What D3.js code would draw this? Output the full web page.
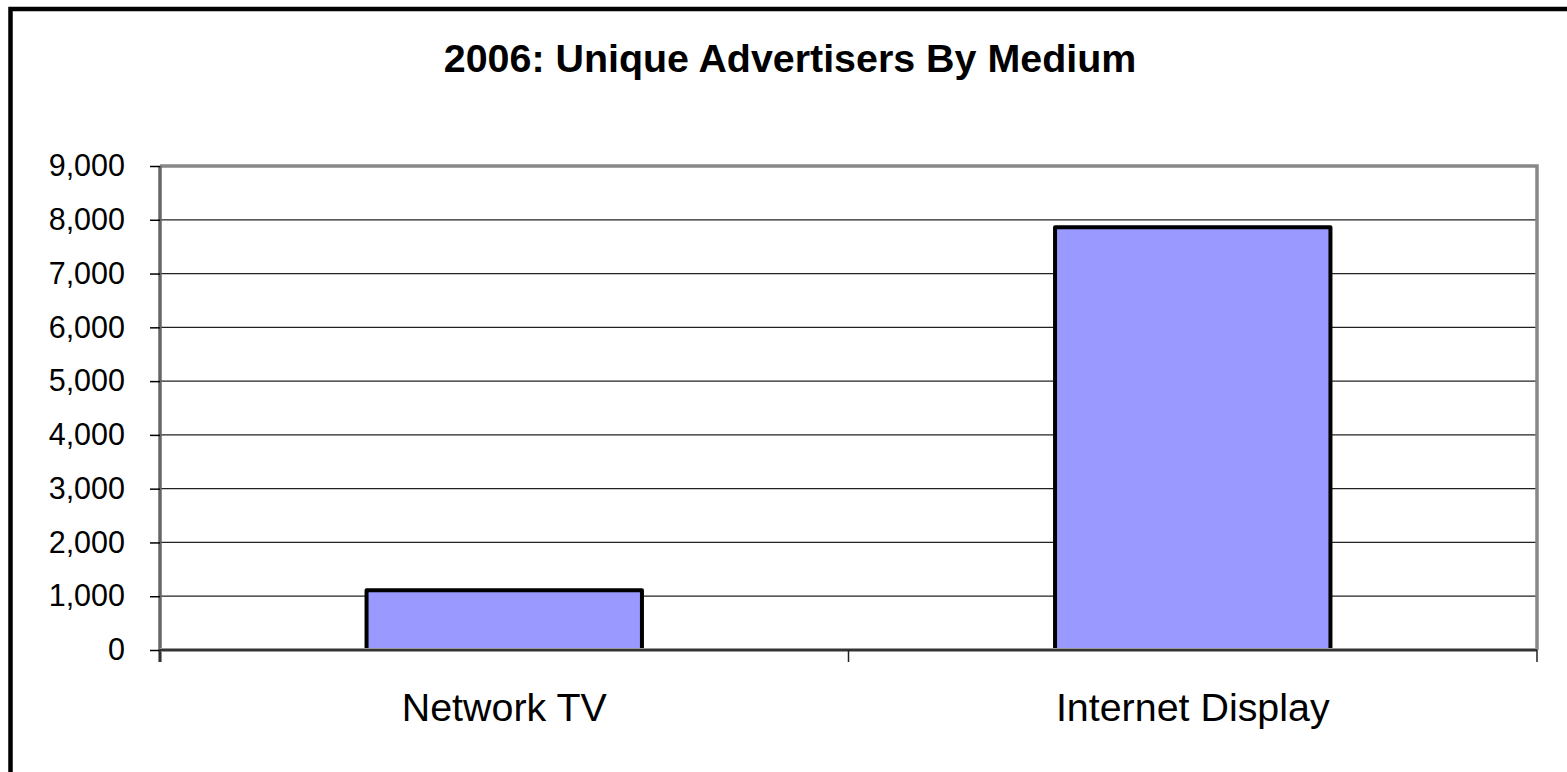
<!DOCTYPE html>
<html>
<head>
<meta charset="utf-8">
<script src="https://cdn.jsdelivr.net/npm/d3@7/dist/d3.min.js"></script>
<style>
  html, body { margin: 0; padding: 0; background: #fff; }
  svg { display: block; font-family: "Liberation Sans", Arial, sans-serif; }
</style>
</head>
<body>
<svg id="chart" width="1567" height="772"></svg>
<script>
// Chart data
const title = "2006: Unique Advertisers By Medium";
const categories = ["Network TV", "Internet Display"];
const advertisers = [1110, 7860];
const yTicks = [0, 1000, 2000, 3000, 4000, 5000, 6000, 7000, 8000, 9000];
const yMax = 9000;

const svg = d3.select("#chart");
const W = 1567, H = 772;

// Plot area
const plot = { left: 160, right: 1537, top: 166, bottom: 650 };

// Outer chart border (runs past the right and bottom edges)
svg.append("rect")
  .attr("x", 10.5).attr("y", 9)
  .attr("width", W + 10).attr("height", H + 10)
  .attr("fill", "#fff")
  .attr("stroke", "#000")
  .attr("stroke-width", 4.5);

// Title
svg.append("text")
  .attr("x", 790).attr("y", 72)
  .attr("text-anchor", "middle")
  .attr("font-size", 39.4)
  .attr("font-weight", "bold")
  .attr("fill", "#000")
  .text(title);

const x = d3.scaleBand()
  .domain(categories)
  .range([plot.left, plot.right])
  .paddingInner(0.6)
  .paddingOuter(0.3);

const y = d3.scaleLinear()
  .domain([0, yMax])
  .range([plot.bottom, plot.top]);

// Horizontal gridlines
svg.append("g")
  .selectAll("line")
  .data(yTicks.filter(d => d > 0 && d < yMax))
  .join("line")
  .attr("x1", plot.left).attr("x2", plot.right)
  .attr("y1", d => y(d)).attr("y2", d => y(d))
  .attr("stroke", "#222")
  .attr("stroke-width", 1.3);

// Plot frame (top and right edges)
svg.append("path")
  .attr("d", `M${plot.left},${plot.top}H${plot.right}V${plot.bottom}`)
  .attr("fill", "none")
  .attr("stroke", "#888")
  .attr("stroke-width", 3.5);

// Bars
svg.append("g")
  .selectAll("rect")
  .data(categories.map((c, i) => ({ c, v: advertisers[i] })))
  .join("rect")
  .attr("x", d => x(d.c))
  .attr("y", d => y(d.v))
  .attr("width", x.bandwidth())
  .attr("height", d => y(0) - y(d.v))
  .attr("fill", "#9999FF")
  .attr("stroke", "#000")
  .attr("stroke-width", 4)
  .attr("stroke-linejoin", "round");

// Y axis
const yAxis = svg.append("g")
  .attr("transform", `translate(${plot.left},0)`)
  .call(d3.axisLeft(y)
    .tickValues(yTicks)
    .tickSize(10)
    .tickPadding(25)
    .tickFormat(d3.format(",")));
yAxis.select(".domain")
  .attr("d", `M0,${plot.top}V${plot.bottom + 12}`)
  .attr("stroke", "#666")
  .attr("stroke-width", 3.5);
yAxis.selectAll(".tick line").attr("stroke", "#000").attr("stroke-width", 1.5);
yAxis.selectAll(".tick text")
  .attr("font-size", 30.5)
  .attr("fill", "#000")
  .attr("font-family", "Liberation Sans, Arial, sans-serif");

// X axis baseline with light edge and dark core
svg.append("line")
  .attr("x1", plot.left).attr("x2", plot.right)
  .attr("y1", plot.bottom).attr("y2", plot.bottom)
  .attr("stroke", "#999").attr("stroke-width", 4);
svg.append("line")
  .attr("x1", plot.left).attr("x2", plot.right)
  .attr("y1", plot.bottom).attr("y2", plot.bottom)
  .attr("stroke", "#333").attr("stroke-width", 1.8);

// X axis category boundary ticks
const step = x.step();
const boundaries = d3.range(categories.length + 1).map(i => plot.left + i * (plot.right - plot.left) / categories.length);
svg.append("g")
  .selectAll("line")
  .data(boundaries)
  .join("line")
  .attr("x1", d => d).attr("x2", d => d)
  .attr("y1", plot.bottom).attr("y2", plot.bottom + 12)
  .attr("stroke", "#222")
  .attr("stroke-width", 1.5);

// Category labels
svg.append("g")
  .selectAll("text")
  .data(categories)
  .join("text")
  .attr("x", d => x(d) + x.bandwidth() / 2)
  .attr("y", 721)
  .attr("text-anchor", "middle")
  .attr("font-size", 39.4)
  .attr("fill", "#000")
  .text(d => d);
</script>
</body>
</html>
